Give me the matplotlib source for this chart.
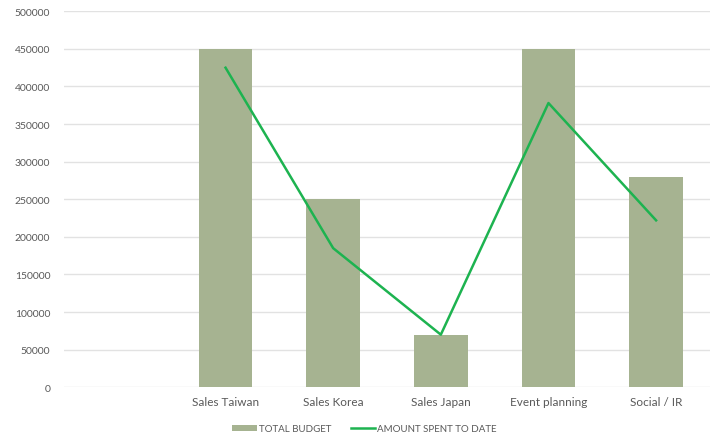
import matplotlib
matplotlib.use("Agg")
import matplotlib.pyplot as plt
import numpy as np

categories = ["", "Sales Taiwan", "Sales Korea", "Sales Japan", "Event planning", "Social / IR"]
total_budget = [np.nan, 450000, 250000, 70000, 450000, 280000]
amount_spent = [np.nan, 425000, 185000, 70000, 378000, 222000]

plt.rcParams['font.family'] = ['Lato', 'DejaVu Sans']
text_col = "#595959"

fig = plt.figure(figsize=(7.2, 4.39), dpi=100)
ax = fig.add_axes([0.089, 0.1155, 0.897, 0.8565])

x = np.arange(len(categories))
bars = ax.bar(x, total_budget, width=0.5, color="#a6b391", label="TOTAL BUDGET", zorder=2)
line, = ax.plot(x, amount_spent, color="#1db350", lw=1.8, label="AMOUNT SPENT TO DATE", zorder=3)

ax.set_xlim(-0.5, len(categories) - 0.5)
ax.set_ylim(0, 500000)
ax.set_yticks(np.arange(0, 500001, 50000))
ax.set_xticks(x)
ax.set_xticklabels(categories, fontsize=8.5, color=text_col)
ax.tick_params(axis="y", labelsize=7.5, labelcolor=text_col, length=0, pad=10)
ax.tick_params(axis="x", length=0, pad=6)
ax.grid(axis="y", color="#e2e2e2", lw=1, zorder=0)
for s in ax.spines.values():
    s.set_visible(False)

leg = ax.legend([bars, line], ["TOTAL BUDGET", "AMOUNT SPENT TO DATE"],
                loc="upper center", bbox_to_anchor=(0.465, -0.075), ncol=2, frameon=False,
                fontsize=7, handlelength=2.5, handleheight=0.5, columnspacing=2.0, handletextpad=0.2)
for t in leg.get_texts():
    t.set_color(text_col)

fig.savefig("out.png", dpi=100)
